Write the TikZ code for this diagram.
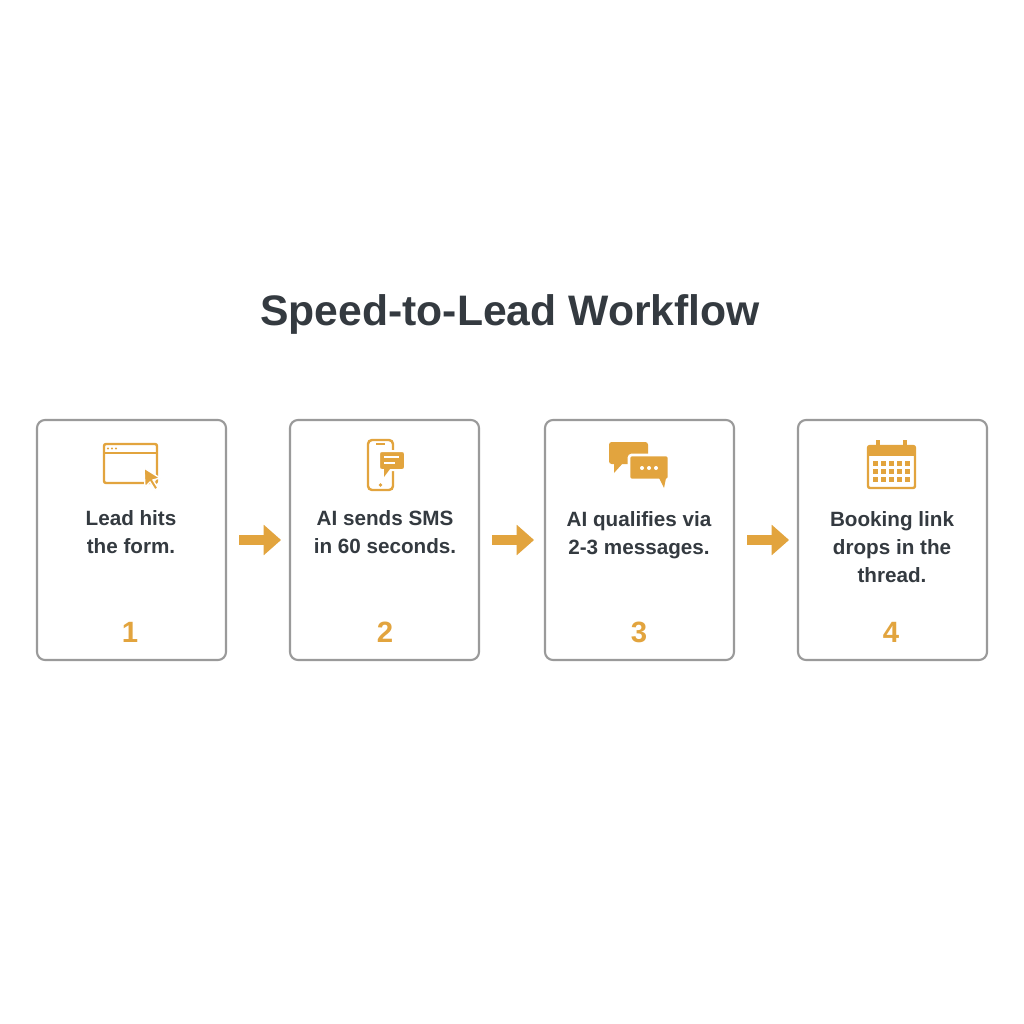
\documentclass[tikz,border=0pt]{standalone}
\usepackage{fontspec}
\setmainfont{Liberation Sans}
\usetikzlibrary{positioning,arrows.meta}
\definecolor{accent}{HTML}{E2A43E}
\definecolor{ink}{HTML}{343A40}
\definecolor{frame}{HTML}{9A9A9A}
\newlength{\px}\setlength{\px}{0.75pt}
\tikzset{
  stepbox/.style={draw=frame, line width=1.6pt, rounded corners=6pt, minimum width=189\px, minimum height=240\px, inner sep=0pt},
  steptext/.style={text=ink, font=\bfseries\fontsize{15.5}{21}\selectfont, align=center},
  stepnum/.style={text=accent, font=\bfseries\fontsize{22}{24}\selectfont},
  flow/.style={accent, line width=7pt, -{Triangle[length=13pt,width=22pt]}},
  icon/.style={draw=accent, line width=1.8pt, rounded corners=1.5pt}
}
\begin{document}
\begin{tikzpicture}[x=0.75pt,y=0.75pt,yscale=-1]
\useasboundingbox[fill=white] (0,0) rectangle (1024,1024);

% title
\node (title) [text=ink, font=\bfseries\fontsize{32}{38}\selectfont] at (510,314) {Speed-to-Lead Workflow};

% the four steps
\node (s1) [stepbox] at (131.5,540) {};
\node (s2) [stepbox] at (384.5,540) {};
\node (s3) [stepbox] at (639.5,540) {};
\node (s4) [stepbox] at (892.5,540) {};

\node (t1) [steptext] at (131,532) {Lead hits\\the form.};
\node (t2) [steptext] at (385,532) {AI sends SMS\\in 60 seconds.};
\node (t3) [steptext] at (639,535) {AI qualifies via\\2-3 messages.};
\node (t4) [steptext] at (892,547) {Booking link\\drops in the\\thread.};

\node (n1) [stepnum] at (130,632) {1};
\node (n2) [stepnum] at (385,632) {2};
\node (n3) [stepnum] at (639,632) {3};
\node (n4) [stepnum] at (891,632) {4};

% arrows between steps
\draw [flow] (s1.east) ++(12,0) coordinate (a1) -- ++(42,0);
\draw [flow] (s2.east) ++(12,0) coordinate (a2) -- ++(42,0);
\draw [flow] (s3.east) ++(12,0) coordinate (a3) -- ++(42,0);

% icon 1: browser with cursor
\draw [icon] (104,444) rectangle (157,483);
\draw [accent, line width=1.8pt] (104,453) -- (157,453);
\foreach \i in {0,1,2} \fill [accent] (108+\i*4,448.5) circle (1.1);
\fill [accent, draw=white, line width=1pt] (144,468) -- (160,478) -- (153,480) -- (158,488) -- (155,490) -- (150,482) -- (145,487) -- cycle;

% icon 2: phone with message
\draw [icon, rounded corners=3pt] (368,440) rectangle (393,490);
\draw [accent, line width=1.5pt] (376,444) -- (385,444);
\fill [accent] (380.5,485) circle (1.8);
\fill [accent, draw=white, line width=1.5pt, rounded corners=2pt] (379,451) rectangle (405,470);
\fill [accent] (384,469) -- (384,477) -- (390,469) -- cycle;
\draw [white, line width=1.4pt] (384,457) -- (399,457) (384,463) -- (395,463);

% icon 3: two chat bubbles
\fill [accent, rounded corners=2pt] (609,442) rectangle (648,464);
\fill [accent] (614,463) -- (614,473) -- (623,463) -- cycle;
\fill [accent, draw=white, line width=2pt, rounded corners=2pt] (629,455) rectangle (669,480);
\fill [accent] (659,478) -- (664,488) -- (666,478) -- cycle;
\foreach \i in {0,1,2} \fill [white] (642+\i*7,468) circle (2);

% icon 4: calendar
\draw [icon] (868,446) rectangle (915,488);
\fill [accent] (868,446) rectangle (915,456);
\draw [accent, line width=2.5pt] (878,440) -- (878,449) (905,440) -- (905,449);
\foreach \r in {0,1,2} \foreach \c in {0,1,2,3,4}
  \fill [accent] (873+\c*8,461+\r*8) rectangle ++(5,5);
\end{tikzpicture}
\end{document}
